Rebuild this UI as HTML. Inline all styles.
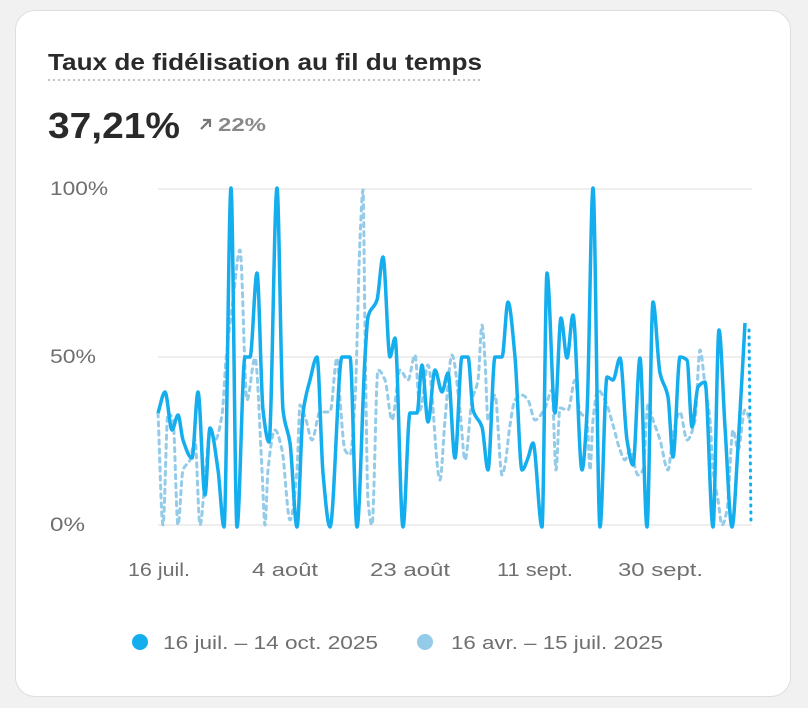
<!DOCTYPE html>
<html><head><meta charset="utf-8"><style>
html,body{margin:0;padding:0;background:#f1f1f1;width:808px;height:708px;overflow:hidden;font-family:"Liberation Sans",sans-serif}
.card{position:absolute;left:15px;top:10px;width:776px;height:687px;background:#fff;border-radius:20px;border:1px solid #dedede;box-sizing:border-box}
</style></head><body>
<div class="card"></div>
<svg width="808" height="708" style="position:absolute;left:0;top:0" font-family="Liberation Sans, sans-serif">
<text x="48" y="70" font-size="23" font-weight="bold" fill="#2a2a2a" textLength="434" lengthAdjust="spacingAndGlyphs">Taux de fidélisation au fil du temps</text>
<line x1="48" y1="80" x2="482" y2="80" stroke="#c4c4c4" stroke-width="2" stroke-dasharray="2 3"/>
<text x="48" y="138" font-size="36" font-weight="bold" fill="#2a2a2a" textLength="132" lengthAdjust="spacingAndGlyphs">37,21%</text>
<path d="M201 129 L210 120 M203 120 L210 120 L210 127" stroke="#777" stroke-width="2.2" fill="none"/>
<text x="218" y="131" font-size="18" font-weight="bold" fill="#888" textLength="48" lengthAdjust="spacingAndGlyphs">22%</text>
<g stroke="#e8e8e8" stroke-width="1.5"><line x1="158" y1="189" x2="752" y2="189"/><line x1="158" y1="357" x2="752" y2="357"/><line x1="158" y1="525" x2="752" y2="525"/></g>
<g font-size="19" fill="#6f6f6f"><text x="50" y="195" textLength="58" lengthAdjust="spacingAndGlyphs">100%</text><text x="50" y="363" textLength="46" lengthAdjust="spacingAndGlyphs">50%</text><text x="50" y="531" textLength="35" lengthAdjust="spacingAndGlyphs">0%</text></g>
<g font-size="18" fill="#6f6f6f"><text x="128" y="576" textLength="62" lengthAdjust="spacingAndGlyphs">16 juil.</text><text x="252" y="576" textLength="66" lengthAdjust="spacingAndGlyphs">4 août</text><text x="370" y="576" textLength="80" lengthAdjust="spacingAndGlyphs">23 août</text><text x="497" y="576" textLength="76" lengthAdjust="spacingAndGlyphs">11 sept.</text><text x="618" y="576" textLength="85" lengthAdjust="spacingAndGlyphs">30 sept.</text></g>
<path id="old" fill="none" stroke="#94cbe8" stroke-width="3" stroke-dasharray="4 5" stroke-linecap="round"/>
<path id="cur" fill="none" stroke="#14adee" stroke-width="3.5" stroke-linejoin="round"/>
<line x1="749" y1="330" x2="751" y2="525" stroke="#14adee" stroke-width="3" stroke-dasharray="1 6" stroke-linecap="round"/>
<circle cx="140" cy="642" r="8" fill="#14adee"/>
<text x="163" y="649" font-size="18" fill="#6f6f6f" textLength="215" lengthAdjust="spacingAndGlyphs">16 juil. – 14 oct. 2025</text>
<circle cx="425" cy="642" r="8" fill="#94cbe8"/>
<text x="451" y="649" font-size="18" fill="#6f6f6f" textLength="212" lengthAdjust="spacingAndGlyphs">16 avr. – 15 juil. 2025</text>
</svg>
<script>
function sm(p){var n=p.length,dx=[],m=[],t=[];for(var i=0;i<n-1;i++){dx[i]=p[i+1][0]-p[i][0];m[i]=(p[i+1][1]-p[i][1])/dx[i];}
t[0]=m[0];t[n-1]=m[n-2];for(i=1;i<n-1;i++){t[i]=(m[i-1]*m[i]<=0)?0:3*(dx[i-1]+dx[i])/((2*dx[i]+dx[i-1])/m[i-1]+(dx[i]+2*dx[i-1])/m[i]);}
var d="M"+p[0][0]+" "+p[0][1];for(i=0;i<n-1;i++){var h=dx[i]/3;d+=" C"+(p[i][0]+h)+" "+(p[i][1]+t[i]*h)+" "+(p[i+1][0]-h)+" "+(p[i+1][1]-t[i+1]*h)+" "+p[i+1][0]+" "+p[i+1][1];}return d;}
var cur=[[158,413],[165,392],[172,430],[178,415],[183,440],[192,458],[198,392],[205,495],[210,428],[218,470],[224,527],[231,188],[237,527],[245,357],[250,357],[257,273],[263,410],[269,442],[277,188],[283,410],[290,443],[297,527],[303,413],[310,380],[317,357],[323,473],[330,527],[342,357],[350,357],[357,527],[365,357],[368,317],[377,300],[383,257],[390,357],[395,338],[403,527],[410,413],[417,413],[422,365],[428,422],[435,370],[442,392],[448,373],[455,458],[462,357],[468,357],[473,410],[482,427],[488,470],[495,357],[502,357],[508,302],[515,357],[522,470],[528,458],[533,443],[542,527],[547,273],[555,413],[561,318],[567,358],[573,315],[582,470],[587,413],[593,188],[600,527],[607,377],[613,380],[620,358],[627,440],[633,465],[640,358],[647,527],[653,302],[660,373],[668,397],[673,457],[680,357],[687,360],[692,427],[698,387],[705,382],[713,527],[719,330],[725,427],[732,527],[738,447],[745,323]];
var old=[[158,413],[163,525],[168,413],[173,420],[178,525],[183,470],[190,460],[195,440],[200,525],[205,480],[210,430],[215,440],[222,415],[226,360],[233,300],[240,250],[247,400],[255,358],[262,470],[265,525],[268,470],[275,430],[282,450],[290,520],[297,470],[300,405],[306,420],[312,440],[320,412],[330,412],[337,358],[340,400],[345,450],[350,455],[355,400],[360,240],[363,190],[365,330],[368,500],[372,525],[378,370],[385,380],[392,420],[400,370],[408,380],[415,355],[420,410],[428,365],[440,480],[445,420],[452,355],[460,410],[465,460],[472,400],[478,380],[482,325],[485,360],[488,420],[495,395],[502,475],[505,465],[510,425],[515,400],[522,395],[528,400],[535,420],[545,408],[552,390],[556,470],[560,408],[568,410],[575,380],[580,412],[587,420],[590,470],[593,420],[598,390],[605,400],[613,425],[620,450],[625,460],[630,450],[638,475],[643,470],[648,405],[653,420],[660,440],[668,470],[673,435],[680,412],[687,440],[695,420],[700,350],[705,385],[710,420],[713,470],[718,500],[722,525],[727,510],[733,430],[738,450],[745,410],[750,420]];
document.getElementById("cur").setAttribute("d",sm(cur));
document.getElementById("old").setAttribute("d",sm(old));
</script>
</body></html>
